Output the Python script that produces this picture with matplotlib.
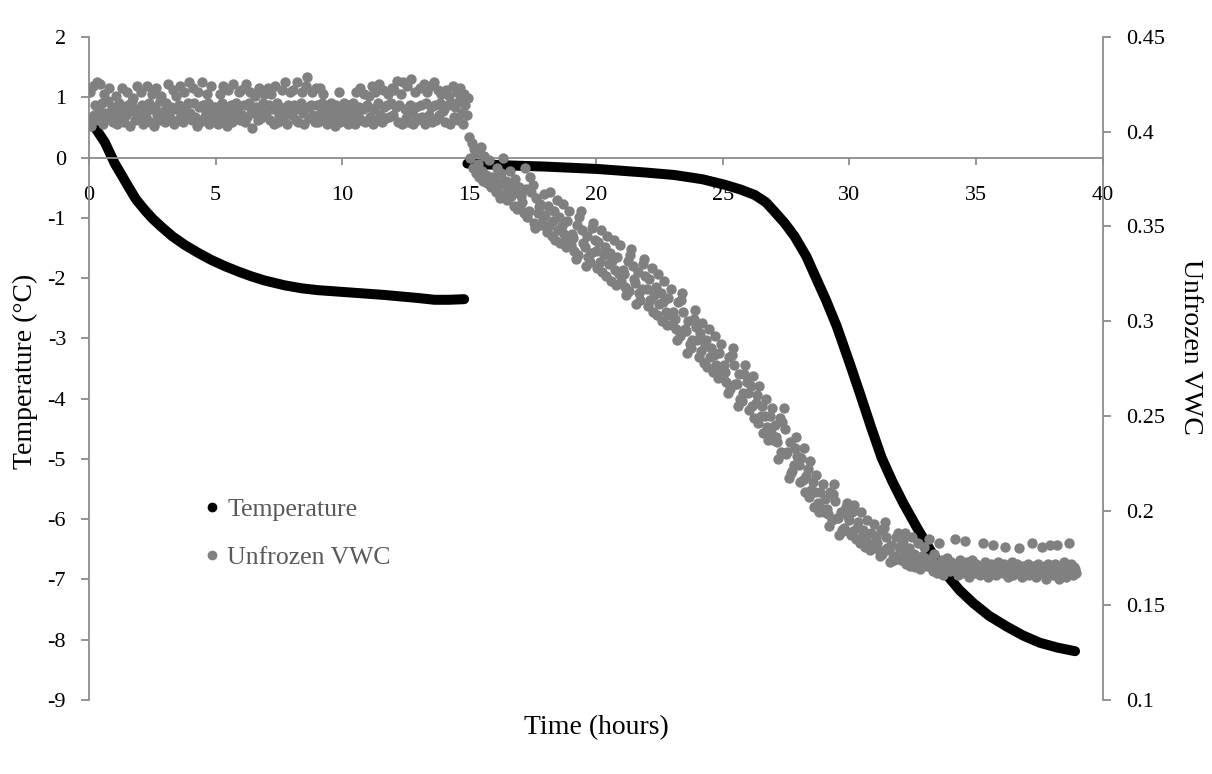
import numpy as np
import matplotlib.pyplot as plt
from matplotlib.lines import Line2D
from matplotlib.ticker import FuncFormatter

plt.rcParams['font.family'] = ['Liberation Serif', 'DejaVu Serif']
plt.rcParams['axes.unicode_minus'] = False

# Temperature, first freezing run (hours, deg C)
temp_hours_1 = [0.0, 0.3, 0.63, 0.82, 1.02, 1.3, 1.55, 1.85, 2.2, 2.5, 2.86, 3.3, 3.78, 4.3,
                4.83, 5.35, 5.88, 6.4, 6.93, 7.72, 8.4, 9.03, 10.35, 11.66, 12.97, 13.63, 14.2, 14.8]
temp_1 = [0.62, 0.46, 0.25, 0.08, -0.10, -0.30, -0.48, -0.69, -0.87, -1.01, -1.15, -1.31, -1.45, -1.58,
          -1.70, -1.80, -1.89, -1.97, -2.04, -2.12, -2.17, -2.20, -2.24, -2.28, -2.33, -2.36, -2.36, -2.35]

# Temperature, second run
temp_hours_2 = [14.93, 15.5, 16.5, 18.0, 20.07, 22.0, 23.1, 24.2, 25.07, 25.7, 26.26, 26.7, 27.05, 27.45,
                27.84, 28.3, 28.63, 29.07, 29.5, 30.0, 30.41, 30.85, 31.27, 31.7, 32.12, 32.65, 33.2, 33.83,
                34.35, 34.88, 35.5, 36.2, 36.85, 37.51, 38.2, 38.9]
temp_2 = [-0.10, -0.11, -0.13, -0.15, -0.19, -0.25, -0.29, -0.36, -0.45, -0.53, -0.62, -0.74, -0.90, -1.09,
          -1.31, -1.64, -1.95, -2.36, -2.80, -3.40, -3.91, -4.47, -4.98, -5.38, -5.73, -6.13, -6.52, -6.92,
          -7.18, -7.39, -7.60, -7.78, -7.93, -8.05, -8.13, -8.19]

# Unfrozen VWC, logged every 3 minutes from t = 0 (one row per hour)
vwc = [
    0.405, 0.421, 0.403, 0.424, 0.409, 0.414, 0.426, 0.406, 0.411, 0.425, 0.415, 0.404, 0.420, 0.410, 0.407, 0.416, 0.423, 0.408, 0.413, 0.405,
    0.412, 0.419, 0.404, 0.410, 0.415, 0.407, 0.423, 0.413, 0.405, 0.409, 0.421, 0.414, 0.403, 0.411, 0.416, 0.418, 0.406, 0.412, 0.424, 0.408,
    0.406, 0.421, 0.414, 0.404, 0.410, 0.408, 0.424, 0.415, 0.405, 0.412, 0.420, 0.403, 0.413, 0.423, 0.409, 0.406, 0.416, 0.419, 0.407, 0.411,
    0.405, 0.415, 0.425, 0.410, 0.407, 0.413, 0.422, 0.404, 0.412, 0.419, 0.406, 0.414, 0.424, 0.409, 0.405, 0.421, 0.412, 0.407, 0.415, 0.426,
    0.410, 0.406, 0.423, 0.415, 0.408, 0.403, 0.421, 0.413, 0.405, 0.426, 0.414, 0.407, 0.410, 0.420, 0.415, 0.404, 0.424, 0.411, 0.406, 0.413,
    0.413, 0.407, 0.404, 0.420, 0.410, 0.415, 0.424, 0.406, 0.412, 0.403, 0.422, 0.409, 0.414, 0.405, 0.425, 0.408, 0.415, 0.411, 0.421, 0.406,
    0.422, 0.409, 0.414, 0.405, 0.425, 0.408, 0.415, 0.421, 0.412, 0.402, 0.410, 0.419, 0.413, 0.406, 0.423, 0.411, 0.407, 0.415, 0.420, 0.409,
    0.410, 0.423, 0.414, 0.406, 0.420, 0.412, 0.404, 0.424, 0.415, 0.405, 0.409, 0.413, 0.422, 0.407, 0.411, 0.426, 0.404, 0.414, 0.410, 0.421,
    0.409, 0.422, 0.414, 0.406, 0.426, 0.405, 0.412, 0.415, 0.421, 0.410, 0.404, 0.424, 0.429, 0.413, 0.407, 0.414, 0.421, 0.409, 0.405, 0.423,
    0.414, 0.405, 0.423, 0.410, 0.415, 0.420, 0.406, 0.412, 0.404, 0.413, 0.409, 0.415, 0.407, 0.411, 0.403, 0.414, 0.408, 0.421, 0.405, 0.412,
    0.410, 0.415, 0.406, 0.412, 0.404, 0.414, 0.409, 0.405, 0.415, 0.411, 0.404, 0.421, 0.409, 0.413, 0.423, 0.406, 0.412, 0.420, 0.405, 0.414,
    0.413, 0.419, 0.408, 0.424, 0.404, 0.412, 0.421, 0.406, 0.415, 0.425, 0.409, 0.405, 0.422, 0.413, 0.407, 0.414, 0.420, 0.408, 0.415, 0.423,
    0.409, 0.422, 0.413, 0.427, 0.405, 0.414, 0.420, 0.404, 0.426, 0.412, 0.407, 0.424, 0.405, 0.414, 0.428, 0.410, 0.404, 0.421, 0.413, 0.406,
    0.407, 0.423, 0.414, 0.408, 0.425, 0.404, 0.415, 0.421, 0.409, 0.424, 0.413, 0.405, 0.426, 0.414, 0.406, 0.422, 0.409, 0.415, 0.420, 0.411,
    0.412, 0.405, 0.422, 0.414, 0.419, 0.404, 0.415, 0.424, 0.408, 0.413, 0.421, 0.406, 0.416, 0.423, 0.410, 0.404, 0.420, 0.414, 0.409, 0.418,
    0.397, 0.386, 0.394, 0.381, 0.391, 0.378, 0.389, 0.383, 0.376, 0.392, 0.379, 0.374, 0.387, 0.377, 0.373, 0.375, 0.385, 0.371, 0.376, 0.373,
    0.376, 0.368, 0.381, 0.371, 0.365, 0.378, 0.373, 0.386, 0.367, 0.374, 0.364, 0.370, 0.379, 0.366, 0.372, 0.361, 0.375, 0.368, 0.359, 0.371,
    0.361, 0.366, 0.363, 0.357, 0.381, 0.370, 0.355, 0.358, 0.376, 0.368, 0.372, 0.352, 0.349, 0.365, 0.357, 0.360, 0.362, 0.351, 0.354, 0.367,
    0.356, 0.347, 0.361, 0.350, 0.368, 0.345, 0.353, 0.358, 0.343, 0.364, 0.348, 0.355, 0.341, 0.350, 0.362, 0.346, 0.339, 0.353, 0.344, 0.358,
    0.340, 0.346, 0.344, 0.337, 0.333, 0.351, 0.335, 0.355, 0.358, 0.348, 0.341, 0.339, 0.329, 0.345, 0.334, 0.331, 0.336, 0.349, 0.352, 0.343,
    0.337, 0.328, 0.342, 0.331, 0.348, 0.326, 0.335, 0.339, 0.324, 0.345, 0.330, 0.336, 0.321, 0.332, 0.343, 0.327, 0.319, 0.334, 0.325, 0.340,
    0.321, 0.327, 0.325, 0.318, 0.314, 0.332, 0.316, 0.335, 0.338, 0.329, 0.322, 0.320, 0.309, 0.326, 0.315, 0.311, 0.317, 0.330, 0.333, 0.324,
    0.317, 0.308, 0.322, 0.311, 0.328, 0.305, 0.314, 0.318, 0.303, 0.325, 0.309, 0.315, 0.300, 0.310, 0.321, 0.305, 0.298, 0.312, 0.303, 0.317,
    0.298, 0.305, 0.301, 0.296, 0.290, 0.310, 0.292, 0.311, 0.315, 0.305, 0.296, 0.295, 0.283, 0.300, 0.288, 0.286, 0.290, 0.301, 0.306, 0.297,
    0.290, 0.281, 0.294, 0.284, 0.299, 0.278, 0.287, 0.290, 0.276, 0.296, 0.281, 0.286, 0.273, 0.282, 0.292, 0.277, 0.270, 0.283, 0.275, 0.288,
    0.270, 0.277, 0.273, 0.268, 0.262, 0.281, 0.264, 0.282, 0.286, 0.277, 0.267, 0.267, 0.255, 0.272, 0.259, 0.258, 0.262, 0.272, 0.277, 0.268,
    0.262, 0.253, 0.266, 0.255, 0.271, 0.249, 0.257, 0.261, 0.246, 0.266, 0.250, 0.255, 0.241, 0.250, 0.259, 0.244, 0.237, 0.250, 0.241, 0.254,
    0.237, 0.245, 0.239, 0.236, 0.227, 0.249, 0.231, 0.247, 0.254, 0.243, 0.230, 0.231, 0.217, 0.236, 0.220, 0.221, 0.224, 0.233, 0.239, 0.229,
    0.224, 0.215, 0.228, 0.216, 0.233, 0.210, 0.218, 0.222, 0.207, 0.226, 0.211, 0.215, 0.202, 0.210, 0.219, 0.204, 0.199, 0.210, 0.201, 0.214,
    0.199, 0.206, 0.201, 0.198, 0.192, 0.210, 0.195, 0.209, 0.214, 0.205, 0.196, 0.196, 0.187, 0.199, 0.190, 0.189, 0.191, 0.202, 0.204, 0.197,
    0.195, 0.187, 0.199, 0.189, 0.203, 0.185, 0.191, 0.194, 0.183, 0.199, 0.186, 0.190, 0.181, 0.187, 0.195, 0.183, 0.179, 0.188, 0.182, 0.193,
    0.181, 0.186, 0.183, 0.179, 0.176, 0.190, 0.177, 0.191, 0.194, 0.186, 0.180, 0.179, 0.173, 0.182, 0.175, 0.174, 0.176, 0.186, 0.188, 0.181,
    0.180, 0.174, 0.184, 0.176, 0.188, 0.172, 0.177, 0.180, 0.171, 0.186, 0.174, 0.177, 0.170, 0.175, 0.183, 0.172, 0.169, 0.176, 0.171, 0.181,
    0.175, 0.171, 0.174, 0.185, 0.170, 0.173, 0.168, 0.177, 0.172, 0.167, 0.171, 0.183, 0.170, 0.174, 0.166, 0.172, 0.169, 0.175, 0.171, 0.168,
    0.173, 0.169, 0.172, 0.185, 0.168, 0.171, 0.166, 0.174, 0.170, 0.167, 0.172, 0.184, 0.169, 0.173, 0.165, 0.170, 0.168, 0.174, 0.170, 0.167,
    0.172, 0.168, 0.171, 0.166, 0.170, 0.183, 0.167, 0.173, 0.169, 0.165, 0.171, 0.168, 0.172, 0.182, 0.167, 0.170, 0.166, 0.173, 0.169, 0.171,
    0.170, 0.167, 0.172, 0.181, 0.168, 0.165, 0.171, 0.169, 0.173, 0.166, 0.170, 0.168, 0.172, 0.167, 0.180, 0.169, 0.165, 0.171, 0.168, 0.170,
    0.169, 0.172, 0.166, 0.170, 0.183, 0.168, 0.171, 0.165, 0.169, 0.172, 0.167, 0.170, 0.181, 0.168, 0.171, 0.164, 0.169, 0.172, 0.182, 0.167,
    0.170, 0.166, 0.172, 0.168, 0.182, 0.164, 0.171, 0.169, 0.167, 0.173, 0.170, 0.165, 0.171, 0.183, 0.168, 0.172, 0.166, 0.170, 0.169, 0.167,
]
vwc_hours = np.arange(len(vwc)) * 0.05

axis_grey = '#8c8c8c'
temp_color = 'black'
vwc_color = '#808080'

fig = plt.figure(figsize=(12.12, 7.74), dpi=100)
ax = fig.add_axes([0.0734, 0.0956, 0.8366, 0.8566])
ax2 = ax.twinx()

# dense logger points drawn as a thick round-capped trace
for hrs, temps in [(temp_hours_1, temp_1), (temp_hours_2, temp_2)]:
    ax.plot(hrs, temps, color=temp_color, lw=7.2, solid_capstyle='round', solid_joinstyle='round')

ax2.scatter(vwc_hours, vwc, s=56, color=vwc_color, linewidths=0)

ax.set_xlim(0, 40)
ax.set_ylim(-9, 2)
ax2.set_ylim(0.1, 0.45)
ax.set_xticks(range(0, 41, 5))
ax.set_yticks(range(-9, 3))
ax2.set_yticks(np.arange(0.1, 0.451, 0.05))
ax2.yaxis.set_major_formatter(FuncFormatter(lambda v, p: f'{v:g}'))

# x axis crosses at 0 deg
ax.spines['bottom'].set_position(('data', 0))
for s in ['top', 'right']:
    ax.spines[s].set_visible(False)
for s in ['top', 'left', 'bottom']:
    ax2.spines[s].set_visible(False)
for sp in [ax.spines['left'], ax.spines['bottom'], ax2.spines['right']]:
    sp.set_color(axis_grey)
    sp.set_linewidth(1.3)

ax.tick_params(axis='x', length=5, width=1.3, color=axis_grey, pad=15.5, labelsize=16)
ax.tick_params(axis='y', length=5.5, width=1.3, color=axis_grey, pad=11, labelsize=16)
ax2.tick_params(axis='y', length=5.5, width=1.3, color=axis_grey, pad=11, labelsize=16)

ax.set_xlabel('Time (hours)', fontsize=20, va='center')
ax.xaxis.set_label_coords(0.5, -0.041)
ax.set_ylabel('Temperature (°C)', fontsize=20, va='center')
ax.yaxis.set_label_coords(-0.0631, 0.496)
ax2.set_ylabel('Unfrozen VWC', fontsize=20, rotation=270, va='center')
ax2.yaxis.set_label_coords(1.0868, 0.533)

handles = [Line2D([], [], marker='o', ls='none', color=temp_color, markersize=6),
           Line2D([], [], marker='o', ls='none', color=vwc_color, markersize=6)]
ax2.legend(handles, ['Temperature', 'Unfrozen VWC'], loc='center left', bbox_to_anchor=(0.1134, 0.2507),
           frameon=False, fontsize=18.5, handlelength=0.6, handletextpad=0.3, labelspacing=0.98,
           borderpad=0, borderaxespad=0, labelcolor='#595959')

fig.savefig('out.png', dpi=100)
